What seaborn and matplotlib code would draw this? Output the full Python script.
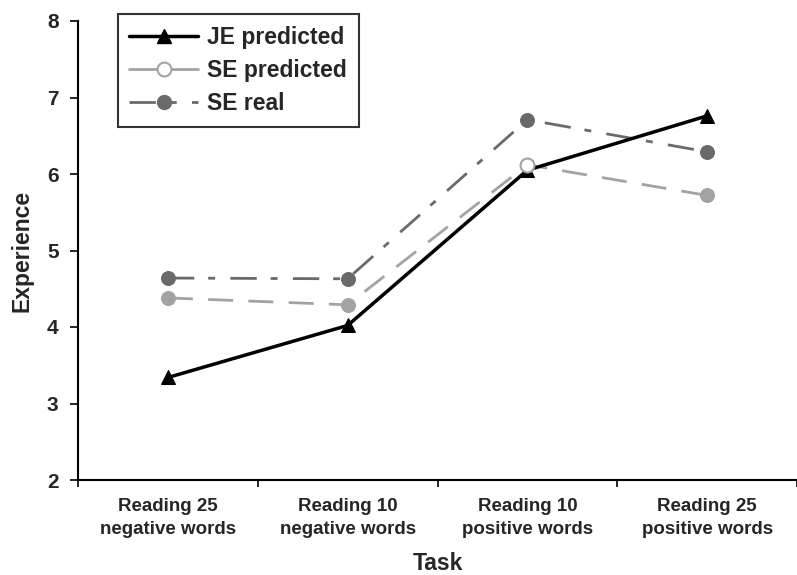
import matplotlib
matplotlib.use("Agg")
import matplotlib.pyplot as plt
from matplotlib.lines import Line2D
import seaborn as sns
import pandas as pd
import numpy as np

categories = ["Reading 25\nnegative words", "Reading 10\nnegative words",
              "Reading 10\npositive words", "Reading 25\npositive words"]
je_predicted = [3.34, 4.02, 6.05, 6.76]
se_predicted = [4.38, 4.29, 6.12, 5.72]
se_real = [4.64, 4.63, 6.71, 6.29]
y_ticks = [2, 3, 4, 5, 6, 7, 8]

sns.set_theme(style="white")
plt.rcParams['font.family'] = ['Liberation Sans', 'DejaVu Sans']
plt.rcParams['font.weight'] = 'bold'

fig = plt.figure(figsize=(7.97, 5.75), dpi=100)
ax = fig.add_axes([78/797, 1-480/575, 1-78/797, (480-21)/575])

pos = np.arange(len(categories))
c_real = "#6a6a6a"
c_pred = "#a3a3a3"
dash_real = (0, (9.5, 5, 2.5, 5.5))
dash_pred = (0, (9, 5.5))

sns.lineplot(x=pos, y=se_real, ax=ax, color=c_real, lw=2.0, marker="o", markersize=10,
             markeredgecolor=c_real, linestyle=dash_real, zorder=2)
sns.lineplot(x=pos, y=se_predicted, ax=ax, color=c_pred, lw=2.0, marker="o", markersize=10,
             markeredgecolor=c_pred, linestyle=dash_pred, zorder=3)
sns.lineplot(x=pos, y=je_predicted, ax=ax, color="black", lw=2.5, marker="^", markersize=10,
             markeredgecolor="black", zorder=4)
# open circle marker for SE predicted at third task
ax.plot(pos[2], se_predicted[2], marker="o", markersize=10, markerfacecolor="white",
        markeredgecolor=c_pred, markeredgewidth=1.5, zorder=5, linestyle="none")

ax.set_xlim(-0.5, 3.47)
ax.set_ylim(2, 8)
ax.set_yticks(y_ticks)
ax.set_yticklabels([str(v) for v in y_ticks], fontsize=15, fontweight="bold")
ax.set_xticks(pos)
ax.set_xticklabels(categories, fontsize=13.5, fontweight="bold", linespacing=1.45)
ax.set_xticks(np.arange(-0.5, 3.6, 1), minor=True)
ax.tick_params(axis="x", which="major", length=0, pad=13)
ax.tick_params(axis="x", which="minor", length=5, width=1.2, color="black", direction="out", bottom=True)
ax.tick_params(axis="y", length=6, width=1.2, color="black", direction="out", left=True, pad=8)

for s in ["top", "right"]:
    ax.spines[s].set_visible(False)
for s in ["left", "bottom"]:
    ax.spines[s].set_color("black")
    ax.spines[s].set_linewidth(1.5)

ax.set_ylabel("Experience", fontsize=16.5, fontweight="bold", labelpad=10)
ax.set_xlabel("Task", fontsize=16.5, fontweight="bold", labelpad=10)

handles = [
    Line2D([], [], color="black", lw=2.5, marker="^", markersize=10),
    Line2D([], [], color=c_pred, lw=2.0, marker="o", markersize=10,
           markerfacecolor="white", markeredgecolor=c_pred, markeredgewidth=1.5),
    Line2D([], [], color=c_real, lw=2.0, marker="o", markersize=10, linestyle=dash_real),
]
leg = ax.legend(handles, ["JE predicted", "SE predicted", "SE real"], loc="upper left",
                bbox_to_anchor=(40/719, 1.015), frameon=True, fancybox=False,
                prop={"size": 16.5, "weight": "bold"}, handlelength=3.0, borderpad=0.5,
                labelspacing=0.45, handletextpad=0.4, borderaxespad=0)
leg.get_frame().set_edgecolor("black")
leg.get_frame().set_linewidth(1.5)

fig.savefig("out.png", dpi=100)
